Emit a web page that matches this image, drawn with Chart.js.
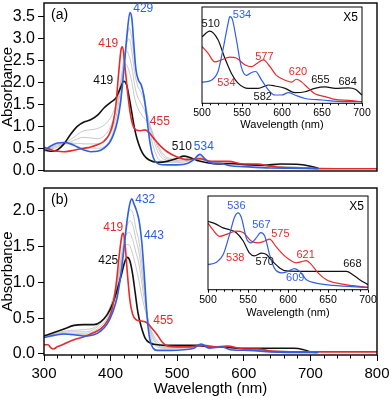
<!DOCTYPE html>
<html>
<head>
<meta charset="utf-8">
<script src="https://cdn.jsdelivr.net/npm/chart.js@4.4.1/dist/chart.umd.min.js"></script>
<style>
  html, body { margin: 0; padding: 0; background: #fff; }
  #wrap { position: relative; width: 391px; height: 399px; overflow: hidden; background: #fff; }
  canvas { position: absolute; }
</style>
</head>
<body>
<div id="wrap">
  <canvas id="mainA" width="391" height="186" style="left:0;top:0;width:391px;height:186px"></canvas>
  <canvas id="mainB" width="391" height="219" style="left:0;top:180px;width:391px;height:219px"></canvas>
  <canvas id="insetA" width="200" height="135" style="left:180px;top:0;width:200px;height:135px"></canvas>
  <canvas id="insetB" width="200" height="135" style="left:180px;top:188px;width:200px;height:135px"></canvas>
</div>
<script>
/* ── PALETTE / FONT ─────────────────────────────────────────────────────── */
const COL = {
  blue: "#2f5fe6",
  red: "#e62b2b",
  black: "#111111",
  gray: "#c2c2c2",
};
const FONT = "'Liberation Sans', Arial, sans-serif";

/* ── AXES ───────────────────────────────────────────────────────────────── */
const X_TICKS_MAIN = [300, 400, 500, 600, 700, 800];
const Y_TICKS_A = [0, 0.5, 1.0, 1.5, 2.0, 2.5, 3.0, 3.5];
const Y_TICKS_B = [0, 0.5, 1.0, 1.5, 2.0];
const X_TICKS_INSET = [500, 550, 600, 650, 700];

/* ── PANEL (a) SPECTRA  [wavelength nm, absorbance] ─────────────────────── */
const aBlack = [[300,0.46],[310,0.43],[320,0.46],[330,0.6],[340,0.82],[350,1.0],[360,1.1],[370,1.15],[380,1.25],[390,1.42],[400,1.55],[408,1.65],[414,1.85],[420,2.03],[424,1.95],[428,1.65],[432,1.3],[436,0.95],[440,0.7],[445,0.48],[450,0.34],[458,0.23],[470,0.18],[485,0.2],[500,0.27],[510,0.32],[520,0.28],[530,0.22],[545,0.17],[560,0.14],[582,0.15],[600,0.13],[630,0.11],[655,0.14],[684,0.13],[700,0.09],[712,0.04]];
const aRed = [[300,0.52],[310,0.47],[320,0.43],[330,0.42],[340,0.44],[350,0.47],[360,0.5],[370,0.53],[380,0.58],[390,0.66],[398,0.82],[404,1.1],[408,1.5],[412,2.2],[416,2.78],[418,2.82],[421,2.45],[425,1.85],[429,1.35],[433,1.05],[438,0.92],[445,0.9],[452,0.92],[458,0.85],[465,0.72],[475,0.55],[485,0.42],[500,0.3],[515,0.24],[534,0.26],[550,0.2],[577,0.2],[600,0.14],[620,0.14],[640,0.09],[660,0.06],[700,0.04],[750,0.03],[800,0.03]];
const aBlue = [[300,0.44],[310,0.55],[320,0.62],[330,0.63],[340,0.6],[350,0.53],[360,0.46],[370,0.42],[380,0.43],[390,0.5],[398,0.62],[404,0.8],[410,1.1],[415,1.55],[420,2.3],[425,3.15],[429,3.6],[432,3.45],[435,2.85],[438,2.3],[442,2.05],[446,1.95],[450,1.7],[454,1.25],[458,0.75],[462,0.4],[466,0.22],[472,0.14],[485,0.12],[500,0.12],[515,0.15],[525,0.24],[534,0.36],[542,0.25],[550,0.17],[566,0.15],[580,0.1],[600,0.08],[640,0.05],[700,0.04],[712,0.03]];
const aGray1 = [[300,0.45],[320,0.6],[340,0.6],[360,0.5],[380,0.5],[400,0.72],[410,1.2],[415,1.65],[420,2.35],[425,3.05],[428,3.25],[432,3.0],[436,2.5],[440,2.15],[445,1.95],[450,1.7],[455,1.3],[460,0.8],[470,0.3],[480,0.2],[500,0.17],[520,0.22],[534,0.3],[550,0.2],[580,0.14],[620,0.1],[700,0.05]];
const aGray2 = [[300,0.45],[320,0.58],[340,0.62],[360,0.6],[380,0.6],[400,0.85],[410,1.35],[415,1.85],[420,2.5],[425,2.95],[428,3.0],[432,2.7],[436,2.25],[440,1.95],[445,1.8],[450,1.6],[455,1.3],[460,0.95],[470,0.45],[480,0.25],[500,0.2],[520,0.24],[534,0.28],[550,0.2],[580,0.14],[620,0.1],[700,0.05]];
const aGray3 = [[300,0.46],[320,0.55],[340,0.65],[360,0.75],[380,0.72],[400,1.0],[410,1.5],[415,2.0],[420,2.55],[424,2.72],[428,2.6],[432,2.35],[436,1.95],[440,1.7],[445,1.55],[450,1.4],[455,1.2],[460,1.0],[470,0.55],[480,0.3],[500,0.22],[520,0.25],[534,0.26],[550,0.2],[580,0.15],[620,0.11],[700,0.05]];
const aGray4 = [[300,0.47],[320,0.52],[340,0.7],[360,0.9],[380,0.95],[400,1.2],[410,1.6],[415,2.0],[420,2.35],[423,2.42],[427,2.3],[432,2.0],[436,1.65],[440,1.45],[445,1.3],[450,1.2],[455,1.1],[460,0.95],[470,0.6],[480,0.35],[500,0.25],[520,0.27],[534,0.24],[550,0.2],[580,0.15],[620,0.11],[700,0.05]];

/* ── PANEL (b) SPECTRA ──────────────────────────────────────────────────── */
const bBlack = [[300,0.25],[315,0.3],[330,0.35],[345,0.4],[360,0.41],[375,0.41],[385,0.45],[395,0.55],[403,0.7],[410,0.9],[416,1.1],[421,1.28],[425,1.35],[429,1.3],[433,1.12],[437,0.85],[441,0.58],[446,0.38],[452,0.22],[460,0.15],[470,0.13],[490,0.12],[510,0.12],[530,0.12],[550,0.1],[570,0.1],[590,0.08],[620,0.08],[650,0.08],[675,0.08],[690,0.06],[700,0.03],[710,0.02]];
const bRed = [[300,0.13],[306,0.13],[310,0.09],[314,0.07],[320,0.1],[330,0.14],[345,0.2],[360,0.24],[375,0.3],[385,0.35],[395,0.46],[402,0.62],[408,0.95],[413,1.38],[417,1.66],[419,1.69],[422,1.5],[425,1.15],[429,0.75],[433,0.56],[438,0.48],[446,0.46],[454,0.44],[462,0.36],[470,0.27],[478,0.16],[486,0.11],[500,0.1],[520,0.1],[538,0.12],[555,0.1],[575,0.11],[600,0.07],[621,0.07],[640,0.04],[660,0.03],[700,0.03],[750,0.03],[800,0.03]];
const bBlue = [[300,0.23],[315,0.26],[330,0.28],[345,0.27],[360,0.25],[375,0.27],[385,0.32],[395,0.42],[403,0.58],[410,0.8],[416,1.15],[421,1.55],[426,1.95],[430,2.14],[432,2.17],[435,2.1],[439,2.0],[443,1.85],[447,1.55],[451,1.05],[455,0.5],[459,0.2],[464,0.08],[470,0.05],[490,0.05],[510,0.06],[525,0.08],[536,0.14],[548,0.08],[567,0.1],[580,0.06],[609,0.05],[640,0.03],[700,0.02],[712,0.02]];
const bGray1 = [[300,0.25],[320,0.28],[340,0.27],[360,0.27],[380,0.32],[400,0.55],[410,0.85],[415,1.15],[420,1.55],[425,1.9],[430,2.02],[434,1.95],[438,1.75],[442,1.6],[446,1.35],[450,1.0],[455,0.55],[460,0.25],[470,0.1],[480,0.08],[500,0.08],[520,0.09],[536,0.13],[560,0.1],[600,0.06],[700,0.02]];
const bGray2 = [[300,0.25],[320,0.28],[340,0.29],[360,0.29],[380,0.35],[400,0.6],[410,0.95],[415,1.25],[420,1.6],[425,1.8],[429,1.86],[434,1.78],[438,1.6],[442,1.45],[446,1.2],[450,0.92],[455,0.55],[460,0.3],[470,0.13],[480,0.09],[500,0.09],[520,0.1],[536,0.13],[560,0.1],[600,0.07],[700,0.02]];
const bGray3 = [[300,0.26],[320,0.29],[340,0.31],[360,0.31],[380,0.38],[400,0.65],[410,1.0],[415,1.3],[420,1.55],[424,1.68],[428,1.7],[433,1.6],[438,1.42],[442,1.28],[446,1.05],[450,0.8],[455,0.55],[460,0.33],[470,0.15],[480,0.1],[500,0.1],[520,0.1],[536,0.12],[560,0.1],[600,0.07],[700,0.02]];
const bGray4 = [[300,0.26],[320,0.3],[340,0.33],[360,0.34],[380,0.4],[400,0.68],[410,1.02],[415,1.28],[420,1.45],[424,1.53],[428,1.52],[433,1.4],[438,1.22],[442,1.05],[446,0.85],[450,0.68],[455,0.5],[460,0.35],[470,0.18],[480,0.11],[500,0.1],[520,0.1],[536,0.12],[560,0.1],[600,0.07],[700,0.02]];

/* ── INSET SPECTRA (x5, relative units 0–1) ─────────────────────────────── */
const iaBlack = [[500,0.69],[509.6,0.75],[520,0.66],[528.5,0.47],[536.8,0.31],[545,0.21],[557.7,0.155],[570,0.155],[583,0.19],[591,0.18],[604,0.155],[616,0.11],[629,0.12],[641,0.155],[654,0.17],[666.5,0.155],[683,0.16],[691.6,0.145],[700,0.086]];
const iaBlue = [[500,0.22],[511.7,0.24],[520,0.33],[526,0.55],[532.6,0.83],[534.7,0.9],[537.6,0.88],[543,0.66],[549,0.38],[555.6,0.29],[562,0.32],[567,0.33],[574.5,0.24],[583,0.14],[591,0.086],[599.6,0.086],[608,0.11],[616,0.086],[629,0.05],[650,0.034],[679,0.017],[700,0.017]];
const iaRed = [[500,0.59],[507.5,0.52],[516,0.43],[524,0.45],[534.7,0.48],[543,0.47],[553.5,0.4],[562,0.38],[568,0.41],[576.6,0.45],[585,0.38],[593,0.29],[604,0.24],[612,0.22],[618,0.25],[624.7,0.22],[633,0.155],[641,0.1],[654,0.07],[666.5,0.04],[683,0.03],[700,0.017]];
const ibBlack = [[500,0.73],[510,0.7],[519,0.66],[527,0.64],[535,0.61],[544,0.52],[552,0.39],[558,0.36],[567,0.39],[573,0.375],[581,0.3],[590,0.23],[598,0.2],[614.6,0.196],[635,0.196],[656,0.196],[673,0.196],[681,0.16],[689.6,0.107],[700,0.054]];
const ibBlue = [[500,0.27],[510,0.29],[519,0.375],[527,0.59],[533,0.77],[537.5,0.82],[541.7,0.77],[548,0.55],[554,0.5],[560,0.55],[566,0.61],[571,0.57],[577,0.375],[583,0.23],[592,0.18],[600,0.196],[608,0.225],[614.6,0.196],[623,0.107],[635,0.07],[656,0.046],[700,0.025]];
const ibRed = [[500,0.71],[506,0.64],[514.6,0.57],[523,0.59],[535,0.625],[544,0.61],[554,0.52],[562.5,0.5],[571,0.52],[577,0.54],[585,0.46],[594,0.375],[602,0.32],[610,0.286],[617,0.3],[623,0.31],[629,0.27],[637.5,0.18],[648,0.107],[664.6,0.064],[681,0.043],[700,0.025]];

/* ── PEAK LABELS  [text, wavelength, value, colour key] ─────────────────── */
const aLabels = [["429",449,3.68,"blue"],["419",396.5,2.9,"red"],["419",389,2.04,"black"],["455",474,1.11,"red"],["510",507,0.54,"black"],["534",540,0.54,"blue"]];
const bLabels = [["432",452,2.15,"blue"],["419",404,1.77,"red"],["443",465,1.65,"blue"],["425",396.5,1.31,"black"],["455",479,0.47,"red"]];
const iaLabels = [["510",511,0.82,"black"],["534",550,0.92,"blue"],["577",578,0.48,"red"],["620",620,0.33,"red"],["655",648,0.24,"black"],["684",682,0.22,"black"],["534",530.5,0.21,"red"],["582",576,0.07,"black"]];
const ibLabels = [["536",535.5,0.89,"blue"],["567",566.7,0.69,"blue"],["575",590.5,0.59,"red"],["621",622,0.375,"red"],["668",680.5,0.275,"black"],["538",534,0.34,"red"],["570",571,0.3,"black"],["609",609,0.13,"blue"]];

/* ── HELPERS ────────────────────────────────────────────────────────────── */
function pts(list) {
  return list.map(function (p) { return { x: p[0], y: p[1] }; });
}

function line(list, color, width) {
  return {
    data: pts(list),
    borderColor: color,
    borderWidth: width,
    pointRadius: 0,
    fill: false,
    tension: 0.4,
    cubicInterpolationMode: "monotone",
  };
}

/* frame around the plot area + peak labels + optional panel tag */
const framePlugin = {
  id: "frame",
  beforeDraw(chart) {
    const o = chart.options.plugins.frame;
    if (!o || !o.fillWhite) return;
    const { ctx, chartArea: a } = chart;
    ctx.save();
    ctx.fillStyle = "#fff";
    ctx.fillRect(a.left, a.top, a.right - a.left, a.bottom - a.top);
    ctx.restore();
  },
  afterDraw(chart) {
    const o = chart.options.plugins.frame;
    if (!o) return;
    const { ctx, chartArea: a, scales: { x, y } } = chart;
    ctx.save();
    ctx.strokeStyle = "#000";
    ctx.lineWidth = o.lineWidth;
    ctx.strokeRect(a.left, a.top, a.right - a.left, a.bottom - a.top);

    /* minor ticks on x axis */
    if (o.minorStep) {
      ctx.lineWidth = 1;
      ctx.beginPath();
      for (let v = x.min + o.minorStep; v < x.max; v += o.minorStep) {
        if (Math.abs(v % o.majorStep) < 1e-6) continue;
        const px = Math.round(x.getPixelForValue(v)) + 0.5;
        ctx.moveTo(px, a.bottom);
        ctx.lineTo(px, a.bottom + o.minorLen);
      }
      ctx.stroke();
    }

    /* peak labels */
    ctx.font = o.labelFont;
    ctx.textAlign = "center";
    ctx.textBaseline = "middle";
    (o.labels || []).forEach(function (l) {
      ctx.fillStyle = COL[l[3]];
      ctx.fillText(l[0], x.getPixelForValue(l[1]), y.getPixelForValue(l[2]));
    });

    /* panel tag, top-left or top-right */
    if (o.tag) {
      ctx.fillStyle = "#000";
      ctx.font = o.tagFont;
      ctx.textAlign = o.tagAlign;
      ctx.textBaseline = "top";
      const tx = o.tagAlign === "left" ? a.left + 7 : a.right - 4;
      ctx.fillText(o.tag, tx, a.top + 5);
    }
    ctx.restore();
  },
};

function keepTicks(list) {
  return function (scale) {
    scale.ticks = list.map(function (v) { return { value: v }; });
  };
}

function mainOptions(opts) {
  return {
    responsive: false,
    animation: false,
    events: [],
    layout: { padding: opts.padding },
    plugins: {
      legend: { display: false },
      tooltip: { enabled: false },
      frame: {
        lineWidth: 1.4,
        labels: opts.labels,
        labelFont: "12px " + FONT,
        tag: opts.tag,
        tagFont: "14px " + FONT,
        tagAlign: "left",
        minorStep: opts.showX ? 20 : 0,
        majorStep: 100,
        minorLen: 3.5,
      },
    },
    scales: {
      x: {
        type: "linear",
        min: 300,
        max: 800,
        display: opts.showX,
        afterBuildTicks: keepTicks(X_TICKS_MAIN),
        afterFit(s) {
          if (opts.showX) s.height = 44;
          s.paddingLeft = 0;
          s.paddingRight = 0;
        },
        grid: { drawOnChartArea: false, drawTicks: true, tickLength: 6, color: "#000", lineWidth: 1 },
        border: { display: false },
        ticks: { color: "#000", padding: 4, maxRotation: 0, autoSkip: false, font: { family: FONT, size: 15 }, callback: (v) => String(v) },
        title: { display: true, text: "Wavelength (nm)", color: "#000", padding: { top: 0, bottom: 1 }, font: { family: FONT, size: 15, lineHeight: 1.2 } },
      },
      y: {
        type: "linear",
        min: opts.yMin,
        max: opts.yMax,
        afterBuildTicks: keepTicks(opts.yTicks),
        afterFit(s) { s.width = 44; s.paddingTop = 0; s.paddingBottom = 0; },
        grid: { drawOnChartArea: false, drawTicks: true, tickLength: 6, color: "#000", lineWidth: 1 },
        border: { display: false },
        ticks: { color: "#000", padding: 3, autoSkip: false, font: { family: FONT, size: 16 }, callback: (v) => v.toFixed(1) },
        title: { display: true, text: "Absorbance", color: "#000", padding: 0, font: { family: FONT, size: 15, lineHeight: 1.0 } },
      },
    },
  };
}

function insetOptions(opts) {
  return {
    responsive: false,
    animation: false,
    events: [],
    layout: { padding: opts.padding },
    plugins: {
      legend: { display: false },
      tooltip: { enabled: false },
      frame: {
        fillWhite: true,
        lineWidth: 1,
        labels: opts.labels,
        labelFont: "11px " + FONT,
        tag: "X5",
        tagFont: "12px " + FONT,
        tagAlign: "right",
        minorStep: 10,
        majorStep: 50,
        minorLen: 2,
      },
    },
    scales: {
      x: {
        type: "linear",
        min: 500,
        max: 700,
        afterBuildTicks: keepTicks(X_TICKS_INSET),
        afterFit(s) { s.height = opts.xHeight; s.paddingLeft = 0; s.paddingRight = 0; },
        grid: { drawOnChartArea: false, drawTicks: true, tickLength: 3, color: "#000", lineWidth: 1 },
        border: { display: false },
        ticks: { color: "#000", padding: 1, maxRotation: 0, autoSkip: false, font: { family: FONT, size: 10.5 }, callback: (v) => String(v) },
        title: { display: true, text: "Wavelength (nm)", color: "#000", padding: { top: 0, bottom: 3 }, font: { family: FONT, size: 11, lineHeight: 1.2 } },
      },
      y: { type: "linear", min: 0, max: 1, display: false },
    },
  };
}

Chart.register(framePlugin);

/* ── PANEL (a) ──────────────────────────────────────────────────────────── */
new Chart(document.getElementById("mainA"), {
  type: "line",
  data: {
    datasets: [
      line(aBlue, COL.blue, 1.6),
      line(aRed, COL.red, 1.6),
      line(aBlack, COL.black, 1.6),
      line(aGray1, COL.gray, 0.9),
      line(aGray2, COL.gray, 0.9),
      line(aGray3, COL.gray, 0.9),
      line(aGray4, COL.gray, 0.9),
    ],
  },
  options: mainOptions({
    padding: { left: 0, top: 3, right: 14, bottom: 15 },
    yMin: -0.02, yMax: 3.82, yTicks: Y_TICKS_A,
    showX: false, labels: aLabels, tag: "(a)",
  }),
});

/* ── PANEL (b) ──────────────────────────────────────────────────────────── */
new Chart(document.getElementById("mainB"), {
  type: "line",
  data: {
    datasets: [
      line(bBlue, COL.blue, 1.6),
      line(bRed, COL.red, 1.6),
      line(bBlack, COL.black, 1.6),
      line(bGray1, COL.gray, 0.9),
      line(bGray2, COL.gray, 0.9),
      line(bGray3, COL.gray, 0.9),
      line(bGray4, COL.gray, 0.9),
    ],
  },
  options: mainOptions({
    padding: { left: 0, top: 8, right: 14, bottom: 0 },
    yMin: -0.014, yMax: 2.32, yTicks: Y_TICKS_B,
    showX: true, labels: bLabels, tag: "(b)",
  }),
});

/* ── INSETS ─────────────────────────────────────────────────────────────── */
new Chart(document.getElementById("insetA"), {
  type: "line",
  data: { datasets: [line(iaBlue, COL.blue, 1.2), line(iaRed, COL.red, 1.2), line(iaBlack, COL.black, 1.2)] },
  options: insetOptions({ padding: { left: 22, top: 7, right: 18, bottom: 0 }, xHeight: 31.7, labels: iaLabels }),
});

new Chart(document.getElementById("insetB"), {
  type: "line",
  data: { datasets: [line(ibBlue, COL.blue, 1.2), line(ibRed, COL.red, 1.2), line(ibBlack, COL.black, 1.2)] },
  options: insetOptions({ padding: { left: 28, top: 8, right: 12, bottom: 0 }, xHeight: 33.3, labels: ibLabels }),
});
</script>
</body>
</html>
